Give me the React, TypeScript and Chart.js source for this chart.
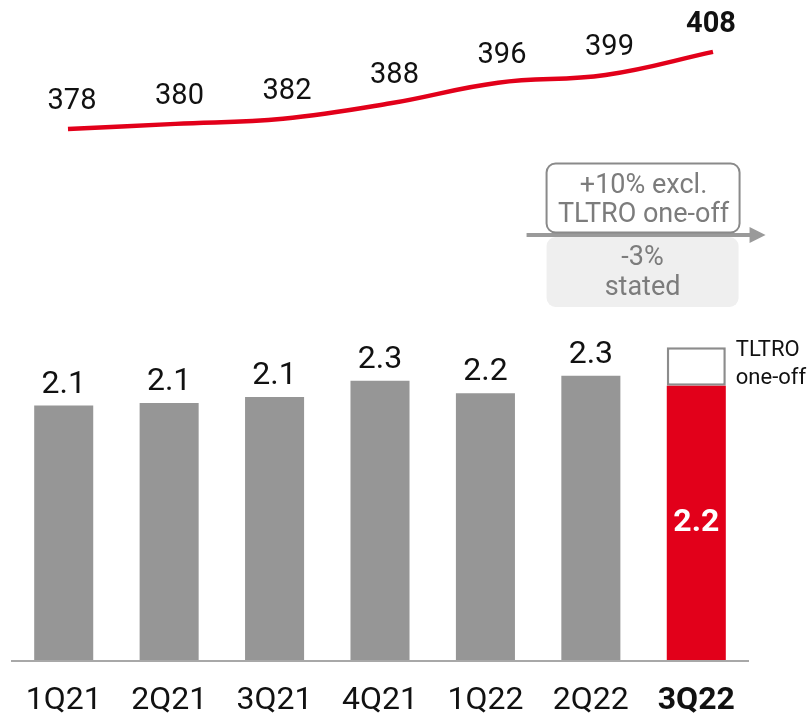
import React, { useEffect, useRef } from "react";
import { Chart, registerables } from "chart.js";

Chart.register(...registerables);

const categories = ["1Q21", "2Q21", "3Q21", "4Q21", "1Q22", "2Q22", "3Q22"];
const niiValues = [2.06, 2.08, 2.13, 2.26, 2.16, 2.3, 2.22];
const tltroValues = [null, null, null, null, null, null, 0.31];
const loanValues = [378, 380, 382, 388, 396, 399, 408];
const noteTopLines = ["+10% excl.", "TLTRO one-off"];
const noteBottomLines = ["-3%", "stated"];
const tltroLabelLines = ["TLTRO", "one-off"];

const FONT = "Roboto, 'Open Sans', sans-serif";
const RED = "#e2001a";
const GREY_BAR = "#969696";
const LAST = categories.length - 1;

const labelsPlugin = {
  id: "customLabels",
  afterDraw(chart: any) {
    const ctx = chart.ctx as CanvasRenderingContext2D;
    const area = chart.chartArea;
    const xs = chart.scales.x;
    ctx.save();

    // axis line
    ctx.strokeStyle = "#a8a8a8";
    ctx.lineWidth = 2;
    ctx.beginPath();
    ctx.moveTo(area.left, area.bottom);
    ctx.lineTo(area.right, area.bottom);
    ctx.stroke();

    // category labels
    ctx.textAlign = "center";
    ctx.textBaseline = "alphabetic";
    ctx.fillStyle = "#111111";
    categories.forEach((c, i) => {
      ctx.font = `${i === LAST ? "bold " : ""}32px ${FONT}`;
      ctx.fillText(c, xs.getPixelForValue(i), 709);
    });

    // bar value labels
    const baseMeta = chart.getDatasetMeta(0);
    baseMeta.data.forEach((bar: any, i: number) => {
      const txt = niiValues[i].toFixed(1);
      if (i === LAST) {
        ctx.font = `bold 32px ${FONT}`;
        ctx.fillStyle = "#ffffff";
        ctx.textBaseline = "middle";
        ctx.fillText(txt, bar.x, (bar.y + bar.base) / 2);
      } else {
        ctx.font = `32px ${FONT}`;
        ctx.fillStyle = "#111111";
        ctx.textBaseline = "alphabetic";
        ctx.fillText(txt, bar.x, bar.y - 13);
      }
    });

    // TLTRO segment label
    const tMeta = chart.getDatasetMeta(1);
    const tb: any = tMeta.data[LAST];
    if (tb) {
      const top = Math.min(tb.y, tb.base);
      const bottom = Math.max(tb.y, tb.base);
      ctx.font = `22px ${FONT}`;
      ctx.fillStyle = "#111111";
      ctx.textAlign = "left";
      ctx.textBaseline = "alphabetic";
      const lx = tb.x + tb.width / 2 + 10;
      ctx.fillText(tltroLabelLines[0], lx, top + 9);
      ctx.fillText(tltroLabelLines[1], lx, bottom - 2);
    }

    // line labels
    const lMeta = chart.getDatasetMeta(2);
    ctx.textAlign = "center";
    ctx.textBaseline = "alphabetic";
    ctx.fillStyle = "#111111";
    lMeta.data.forEach((pt: any, i: number) => {
      ctx.font = `${i === LAST ? "bold " : ""}29px ${FONT}`;
      ctx.fillText(String(loanValues[i]), pt.x + (i === LAST ? -2 : 4), pt.y - 20);
    });

    // growth annotation
    const mid = (xs.getPixelForValue(LAST - 1) + xs.getPixelForValue(LAST)) / 2;
    ctx.strokeStyle = "#9a9a9a";
    ctx.fillStyle = "#9a9a9a";
    ctx.lineWidth = 4;
    ctx.beginPath();
    ctx.moveTo(mid - 117, 235);
    ctx.lineTo(mid + 108, 235);
    ctx.stroke();
    ctx.beginPath();
    ctx.moveTo(mid + 106, 227);
    ctx.lineTo(mid + 122, 235);
    ctx.lineTo(mid + 106, 243);
    ctx.closePath();
    ctx.fill();

    ctx.beginPath();
    (ctx as any).roundRect(mid - 97, 163.5, 193, 69, 9);
    ctx.fillStyle = "#ffffff";
    ctx.fill();
    ctx.strokeStyle = "#8a8a8a";
    ctx.lineWidth = 2;
    ctx.stroke();

    ctx.beginPath();
    (ctx as any).roundRect(mid - 97, 237, 192, 70, 9);
    ctx.fillStyle = "#efefef";
    ctx.fill();

    ctx.fillStyle = "#7c7c7c";
    ctx.font = `27px ${FONT}`;
    ctx.textAlign = "center";
    ctx.fillText(noteTopLines[0], mid, 193);
    ctx.fillText(noteTopLines[1], mid, 222);
    ctx.fillText(noteBottomLines[0], mid - 1, 265);
    ctx.fillText(noteBottomLines[1], mid - 1, 295);

    ctx.restore();
  },
};

export default function App() {
  const canvasRef = useRef<HTMLCanvasElement | null>(null);

  useEffect(() => {
    if (!canvasRef.current) return;
    const chart = new Chart(canvasRef.current, {
      type: "bar",
      data: {
        labels: categories,
        datasets: [
          {
            type: "bar",
            label: "NII",
            data: niiValues,
            backgroundColor: niiValues.map((_, i) => (i === LAST ? RED : GREY_BAR)),
            borderWidth: 0,
            barPercentage: 0.56,
            categoryPercentage: 1,
            grouped: false,
            xAxisID: "x",
            yAxisID: "y",
          },
          {
            type: "bar",
            label: "TLTRO one-off",
            data: tltroValues.map((v, i) => (v == null ? null : [niiValues[i], niiValues[i] + v])) as any,
            backgroundColor: "#ffffff",
            borderColor: "#8c8c8c",
            borderWidth: 2.5,
            borderSkipped: false,
            barPercentage: 0.56,
            categoryPercentage: 1,
            grouped: false,
            xAxisID: "x",
            yAxisID: "y",
          },
          {
            type: "line",
            label: "Loans",
            data: loanValues.map((v, i) => ({ x: i, y: v })) as any,
            borderColor: RED,
            borderWidth: 4.5,
            pointRadius: 0,
            tension: 0.4,
            fill: false,
            xAxisID: "x2",
            yAxisID: "y2",
          } as any,
        ],
      },
      options: {
        animation: false,
        responsive: false,
        maintainAspectRatio: false,
        layout: { padding: { left: 11, right: 61, top: 0, bottom: 56 } },
        plugins: { legend: { display: false }, tooltip: { enabled: false } },
        scales: {
          x: { type: "category", display: false, offset: true },
          y: { type: "linear", display: false, min: 0, max: 661 / 124 },
          x2: { type: "linear", display: false, offset: false, bounds: "data", min: -0.53, max: 6.335 },
          y2: { type: "linear", display: false, min: 171, max: 428.2 },
        },
      },
      plugins: [labelsPlugin],
    });
    return () => chart.destroy();
  }, []);

  return (
    <div style={{ position: "absolute", left: 0, top: 0, width: 810, height: 717, background: "#fff" }}>
      <canvas ref={canvasRef} width={810} height={717} style={{ display: "block" }} />
    </div>
  );
}
